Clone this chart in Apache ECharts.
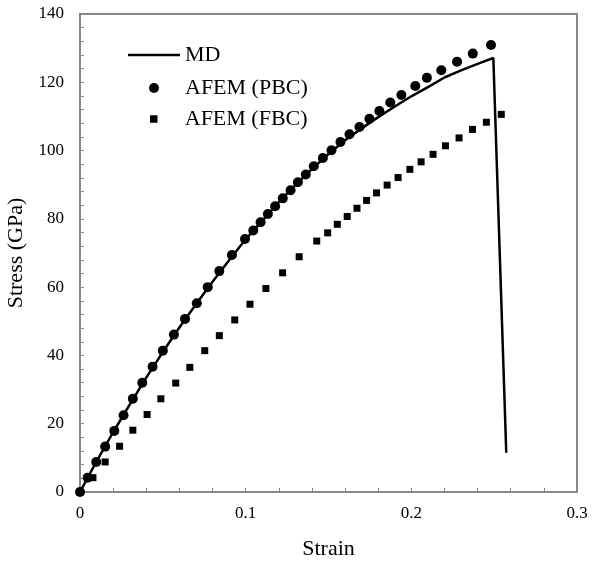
<!DOCTYPE html>
<html>
<head>
<meta charset="utf-8">
<script src="https://cdn.jsdelivr.net/npm/echarts@6/dist/echarts.min.js"></script>
<style>
  html, body { margin: 0; padding: 0; background: #fff; }
  #chart { width: 595px; height: 561px; }
</style>
</head>
<body>
<div id="chart"></div>
<script>
// ---- Data ----
const seriesNames = ['MD', 'AFEM (PBC)', 'AFEM (FBC)'];

// MD (solid line)
const strainMD = [0, 0.01, 0.02, 0.03, 0.04, 0.05, 0.06, 0.07, 0.08, 0.09, 0.10, 0.11, 0.12, 0.13, 0.14, 0.15, 0.16, 0.17, 0.18, 0.19, 0.20, 0.21, 0.22, 0.23, 0.24, 0.2495, 0.2573];
const stressMD = [0, 9.0, 17.5, 25.6, 33.5, 41.0, 48.2, 55.0, 61.6, 67.9, 74.0, 79.4, 84.9, 89.9, 94.6, 99.0, 103.0, 106.5, 109.8, 112.9, 115.9, 118.6, 121.4, 123.5, 125.4, 127.1, 11.5];

// AFEM (PBC) (circles)
const strainPBC = [0, 0.0046, 0.0098, 0.0152, 0.0207, 0.0263, 0.0319, 0.0376, 0.0438, 0.0500, 0.0567, 0.0634, 0.0705, 0.0771, 0.0841, 0.0917, 0.0996, 0.1046, 0.1090, 0.1134, 0.1178, 0.1224, 0.1271, 0.1315, 0.1363, 0.1411, 0.1466, 0.1518, 0.1572, 0.1627, 0.1687, 0.1747, 0.1807, 0.1873, 0.1940, 0.2024, 0.2094, 0.2181, 0.2276, 0.2371, 0.2481];
const stressPBC = [0, 4.2, 8.8, 13.3, 17.9, 22.5, 27.3, 32.0, 36.7, 41.4, 46.1, 50.7, 55.3, 60.0, 64.7, 69.4, 74.1, 76.6, 79.0, 81.4, 83.7, 86.0, 88.4, 90.7, 93.0, 95.4, 97.8, 100.1, 102.5, 104.8, 106.9, 109.3, 111.6, 114.1, 116.3, 118.9, 121.3, 123.5, 126.0, 128.4, 130.9];

// AFEM (FBC) (squares)
const strainFBC = [0, 0.0078, 0.0152, 0.0239, 0.0319, 0.0405, 0.0488, 0.0578, 0.0663, 0.0753, 0.0841, 0.0934, 0.1026, 0.1122, 0.1223, 0.1323, 0.1429, 0.1495, 0.1553, 0.1613, 0.1672, 0.1730, 0.1790, 0.1854, 0.1920, 0.1991, 0.2059, 0.2131, 0.2206, 0.2288, 0.2369, 0.2453, 0.2543];
const stressFBC = [0, 4.2, 8.8, 13.4, 18.1, 22.7, 27.3, 31.9, 36.5, 41.4, 45.8, 50.4, 55.0, 59.6, 64.2, 68.9, 73.5, 75.9, 78.4, 80.7, 83.1, 85.4, 87.6, 89.9, 92.1, 94.5, 96.7, 98.9, 101.4, 103.7, 106.2, 108.3, 110.6];

// Axis ranges / ticks
const xRange = [0, 0.3];
const xStep = 0.1;
const yRange = [0, 140];
const yStep = 20;
const xTitle = 'Strain';
const yTitle = 'Stress (GPa)';

// ---- Build chart ----
const zip = (xs, ys) => xs.map((x, i) => [x, ys[i]]);
const FONT = '"Liberation Serif", "Times New Roman", serif';
const AXIS_COLOR = '#878787';

const chart = echarts.init(document.getElementById('chart'), null, { renderer: 'canvas' });

const legendBase = {
  orient: 'vertical',
  padding: 0,
  itemWidth: 52,
  itemGap: 0,
  symbolKeepAspect: true,
  textStyle: { fontFamily: FONT, fontSize: 22, color: '#000', lineHeight: 22 },
  selectedMode: false
};

chart.setOption({
  animation: false,
  backgroundColor: '#fff',
  grid: {
    left: 80, right: 18, top: 14, bottom: 69,
    show: true, borderColor: AXIS_COLOR, borderWidth: 2,
    containLabel: false, outerBoundsMode: 'none'
  },
  legend: [
    Object.assign({}, legendBase, { data: [{ name: seriesNames[0], icon: 'rect' }], left: 128, top: 44, itemHeight: 2.5 }),
    Object.assign({}, legendBase, { data: [{ name: seriesNames[1], icon: 'circle' }], left: 149, top: 77, itemHeight: 10 }),
    Object.assign({}, legendBase, { data: [{ name: seriesNames[2], icon: 'path://M0,0L10,0L10,10L0,10Z' }], left: 150, top: 108, itemHeight: 7.5 })
  ],
  xAxis: {
    type: 'value',
    min: xRange[0], max: xRange[1], interval: xStep,
    name: xTitle, nameLocation: 'middle', nameGap: 46,
    nameTextStyle: { fontFamily: FONT, fontSize: 22, color: '#000' },
    axisLine: { show: true, lineStyle: { color: AXIS_COLOR, width: 2 } },
    axisTick: { show: true, inside: true, length: 4, lineStyle: { color: AXIS_COLOR, width: 1 } },
    minorTick: { show: true, splitNumber: 5, length: 4, lineStyle: { color: AXIS_COLOR, width: 1 } },
    axisLabel: { fontFamily: FONT, fontSize: 17, color: '#000', margin: 13 },
    splitLine: { show: false }
  },
  yAxis: {
    type: 'value',
    min: yRange[0], max: yRange[1], interval: yStep,
    name: yTitle, nameLocation: 'middle', nameGap: 44,
    nameTextStyle: { fontFamily: FONT, fontSize: 22, color: '#000' },
    axisLine: { show: true, lineStyle: { color: AXIS_COLOR, width: 2 } },
    axisTick: { show: true, inside: true, length: 4, lineStyle: { color: AXIS_COLOR, width: 1 } },
    minorTick: { show: true, splitNumber: 5, length: 4, lineStyle: { color: AXIS_COLOR, width: 1 } },
    axisLabel: { fontFamily: FONT, fontSize: 17, color: '#000', margin: 16 },
    splitLine: { show: false }
  },
  series: [
    {
      name: seriesNames[0],
      type: 'line',
      data: zip(strainMD, stressMD),
      symbol: 'none',
      smooth: false,
      lineStyle: { color: '#000', width: 2.5 },
      itemStyle: { color: '#000' },
      z: 2
    },
    {
      name: seriesNames[1],
      type: 'scatter',
      data: zip(strainPBC, stressPBC),
      symbol: 'circle',
      symbolSize: 10,
      itemStyle: { color: '#000', opacity: 1 },
      z: 3
    },
    {
      name: seriesNames[2],
      type: 'scatter',
      data: zip(strainFBC, stressFBC),
      symbol: 'rect',
      symbolSize: 7,
      itemStyle: { color: '#000', opacity: 1 },
      z: 4
    }
  ]
});
</script>
</body>
</html>
